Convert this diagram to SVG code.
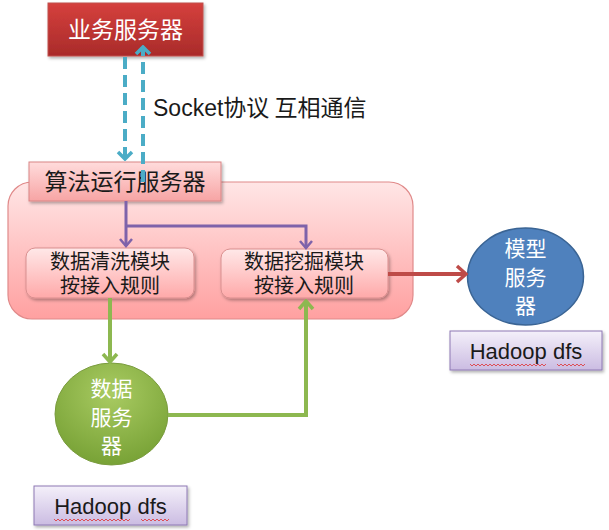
<svg xmlns="http://www.w3.org/2000/svg" width="609" height="530" viewBox="0 0 609 530">
<defs>
  <linearGradient id="gRed" x1="0" y1="0" x2="0" y2="1">
    <stop offset="0" stop-color="#D5403D"/>
    <stop offset="1" stop-color="#A92B2A"/>
  </linearGradient>
  <linearGradient id="gPinkBox" x1="0" y1="0" x2="0" y2="1">
    <stop offset="0" stop-color="#FFDCDC"/>
    <stop offset="1" stop-color="#F7A4A4"/>
  </linearGradient>
  <linearGradient id="gBig" x1="0" y1="0" x2="0" y2="1">
    <stop offset="0" stop-color="#FFE6E6"/>
    <stop offset="1" stop-color="#FFA0A0"/>
  </linearGradient>
  <linearGradient id="gModule" x1="0" y1="0" x2="0" y2="1">
    <stop offset="0" stop-color="#FFE8E8"/>
    <stop offset="1" stop-color="#FFA9A9"/>
  </linearGradient>
  <linearGradient id="gLav" x1="0" y1="0" x2="0" y2="1">
    <stop offset="0" stop-color="#F4F0FA"/>
    <stop offset="1" stop-color="#CBBCE2"/>
  </linearGradient>
  <radialGradient id="gGreen" cx="0.5" cy="0.3" r="0.7">
    <stop offset="0" stop-color="#A9CB62"/>
    <stop offset="1" stop-color="#78A236"/>
  </radialGradient>
  <filter id="sh" x="-10%" y="-10%" width="125%" height="130%">
    <feDropShadow dx="1.5" dy="2" stdDeviation="1.5" flood-color="#000" flood-opacity="0.3"/>
  </filter>
  <marker id="mTeal" markerUnits="userSpaceOnUse" viewBox="-10 -10 12 20" refX="0" refY="0" markerWidth="12" markerHeight="20" orient="auto">
    <path d="M-7,-7 L0,0 L-7,7" fill="none" stroke="#4BACC6" stroke-width="3.5"/>
  </marker>
  <marker id="mPurple" markerUnits="userSpaceOnUse" viewBox="-10 -10 12 20" refX="0" refY="0" markerWidth="12" markerHeight="20" orient="auto">
    <path d="M-7,-6 L0,0 L-7,6" fill="none" stroke="#7E63AA" stroke-width="2.5"/>
  </marker>
  <marker id="mGreen" markerUnits="userSpaceOnUse" viewBox="-10 -10 12 20" refX="0" refY="0" markerWidth="12" markerHeight="20" orient="auto">
    <path d="M-8,-7 L0,0 L-8,7" fill="none" stroke="#8DB850" stroke-width="3.5"/>
  </marker>
  <marker id="mRed" markerUnits="userSpaceOnUse" viewBox="-12 -10 14 20" refX="0" refY="0" markerWidth="14" markerHeight="20" orient="auto">
    <path d="M-9,-8 L0,0 L-9,8" fill="none" stroke="#BE4B48" stroke-width="3.5"/>
  </marker>
</defs>
<style>
  .cjk { font-family: "Noto Sans CJK SC", "Noto Sans", sans-serif; }
  .lat { font-family: "Liberation Sans", "Noto Sans CJK SC", sans-serif; }
  .white { fill: #FFFFFF; }
  .dark { fill: #1A1A1A; }
  .teal { stroke: #4BACC6; stroke-width: 4; fill: none; stroke-dasharray: 12 6; }
  .purple { stroke: #7E63AA; stroke-width: 3; fill: none; }
  .green { stroke: #8DB850; stroke-width: 4; fill: none; }
  .red { stroke: #BE4B48; stroke-width: 4; fill: none; }
  .wavy { stroke: #E03030; stroke-width: 0.8; fill: none; }
</style>

<g id="algo-container">
  <rect x="8" y="182" width="405" height="137" rx="24" ry="24" fill="url(#gBig)" stroke="#E08A8A" stroke-width="1.2"/>
</g>

<g id="business-server">
  <rect x="48" y="3" width="155" height="53" fill="url(#gRed)" stroke="#C0504D" stroke-width="1" filter="url(#sh)"/>
  <text x="125.5" y="38" text-anchor="middle" font-size="23" class="cjk white">业务服务器</text>
</g>

<g id="algo-server">
  <rect x="29" y="162" width="192" height="39" fill="url(#gPinkBox)" stroke="#D98585" stroke-width="1" filter="url(#sh)"/>
  <text x="125" y="190" text-anchor="middle" font-size="23" class="cjk dark">算法运行服务器</text>
</g>

<g id="clean-module">
  <rect x="26" y="248" width="168" height="50" rx="9" ry="9" fill="url(#gModule)" stroke="#D98F8F" stroke-width="1" filter="url(#sh)"/>
  <text x="110" y="269" text-anchor="middle" font-size="20" class="cjk dark">数据清洗模块</text>
  <text x="110" y="293" text-anchor="middle" font-size="20" class="cjk dark">按接入规则</text>
</g>

<g id="mining-module">
  <rect x="221" y="249" width="167" height="49" rx="9" ry="9" fill="url(#gModule)" stroke="#D98F8F" stroke-width="1" filter="url(#sh)"/>
  <text x="304" y="269" text-anchor="middle" font-size="20" class="cjk dark">数据挖掘模块</text>
  <text x="304" y="293" text-anchor="middle" font-size="20" class="cjk dark">按接入规则</text>
</g>

<g id="model-server">
  <ellipse cx="525.5" cy="276.5" rx="58" ry="48.5" fill="#4F81BD" stroke="#3A6494" stroke-width="1.5"/>
  <text x="525.5" y="256" text-anchor="middle" font-size="21" class="cjk white">模型</text>
  <text x="525.5" y="284.5" text-anchor="middle" font-size="21" class="cjk white">服务</text>
  <text x="525.5" y="313" text-anchor="middle" font-size="21" class="cjk white">器</text>
</g>

<g id="model-hadoop">
  <rect x="450" y="331" width="152" height="39" fill="url(#gLav)" stroke="#8E78B4" stroke-width="1" filter="url(#sh)"/>
  <text x="526" y="359" text-anchor="middle" font-size="22" class="lat dark">Hadoop dfs</text>
  <path class="wavy" d="M470,364 l2,2 l2,-2 l2,2 l2,-2 l2,2 l2,-2 l2,2 l2,-2 l2,2 l2,-2 l2,2 l2,-2 l2,2 l2,-2 l2,2 l2,-2 l2,2 l2,-2 l2,2 l2,-2 l2,2 l2,-2 l2,2 l2,-2 l2,2 l2,-2 l2,2 l2,-2 l2,2 l2,-2 l2,2 l2,-2 l2,2 l2,-2 l2,2 l2,-2 l2,2 l2,-2"/>
  <path class="wavy" d="M557,364 l2,2 l2,-2 l2,2 l2,-2 l2,2 l2,-2 l2,2 l2,-2 l2,2 l2,-2 l2,2 l2,-2 l2,2 l2,-2"/>
</g>

<g id="data-server">
  <ellipse cx="111.5" cy="414" rx="56.5" ry="51" fill="url(#gGreen)" stroke="#7A9C3E" stroke-width="1"/>
  <text x="111.5" y="396" text-anchor="middle" font-size="21" class="cjk white">数据</text>
  <text x="111.5" y="424.5" text-anchor="middle" font-size="21" class="cjk white">服务</text>
  <text x="111.5" y="453" text-anchor="middle" font-size="21" class="cjk white">器</text>
</g>

<g id="data-hadoop">
  <rect x="34" y="486" width="153" height="39" fill="url(#gLav)" stroke="#8E78B4" stroke-width="1" filter="url(#sh)"/>
  <text x="110.5" y="514" text-anchor="middle" font-size="22" class="lat dark">Hadoop dfs</text>
  <path class="wavy" d="M54,519 l2,2 l2,-2 l2,2 l2,-2 l2,2 l2,-2 l2,2 l2,-2 l2,2 l2,-2 l2,2 l2,-2 l2,2 l2,-2 l2,2 l2,-2 l2,2 l2,-2 l2,2 l2,-2 l2,2 l2,-2 l2,2 l2,-2 l2,2 l2,-2 l2,2 l2,-2 l2,2 l2,-2 l2,2 l2,-2 l2,2 l2,-2 l2,2 l2,-2 l2,2 l2,-2"/>
  <path class="wavy" d="M141,519 l2,2 l2,-2 l2,2 l2,-2 l2,2 l2,-2 l2,2 l2,-2 l2,2 l2,-2 l2,2 l2,-2 l2,2 l2,-2"/>
</g>

<g id="socket-label">
  <text x="153" y="116" font-size="23" class="lat dark">Socket<tspan class="cjk">协议 互相通信</tspan></text>
</g>

<g id="connectors">
  <path class="teal" d="M125,57 L125,159" marker-end="url(#mTeal)"/>
  <path class="teal" d="M143,182 L143,47" marker-end="url(#mTeal)"/>
  <path class="purple" d="M126,201 L126,246" marker-end="url(#mPurple)"/>
  <path class="purple" d="M126,226 L306,226 L306,248" marker-end="url(#mPurple)"/>
  <path class="green" d="M110,298 L110,362" marker-end="url(#mGreen)"/>
  <path class="green" d="M168,415 L306,415 L306,301" marker-end="url(#mGreen)"/>
  <path class="red" d="M388,274 L466,274" marker-end="url(#mRed)"/>
</g>
</svg>
